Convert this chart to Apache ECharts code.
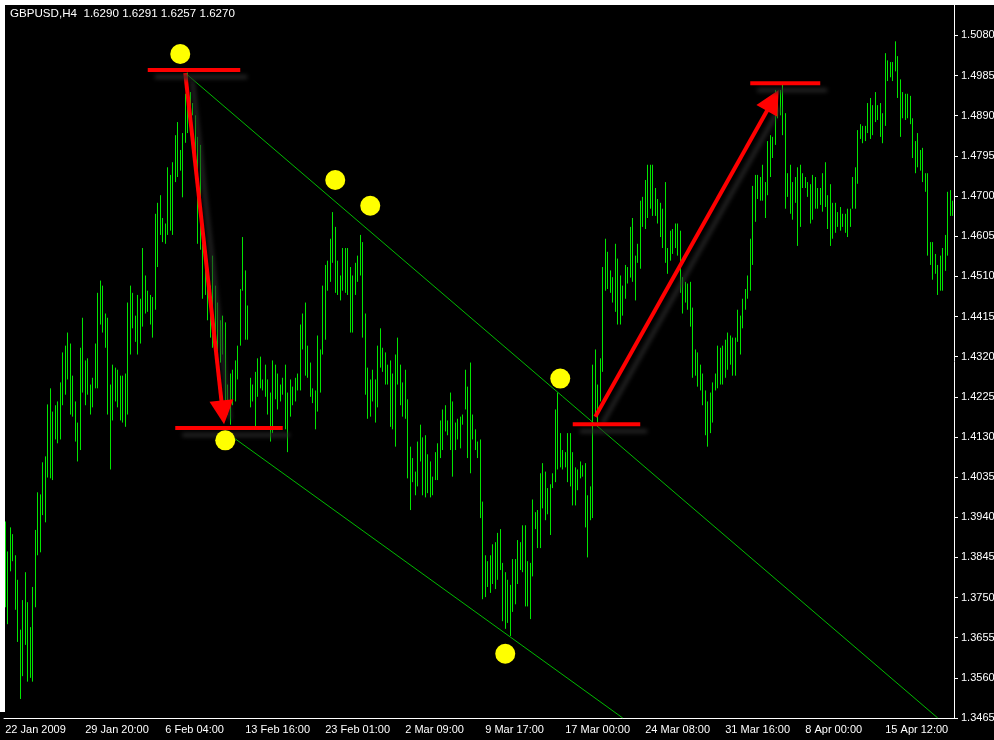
<!DOCTYPE html>
<html>
<head>
<meta charset="utf-8">
<script src="https://cdn.jsdelivr.net/npm/echarts@6/dist/echarts.min.js"></script>
<style>
  html, body { margin: 0; padding: 0; background: #000; }
  #chart { width: 994px; height: 740px; }
</style>
</head>
<body>
<div id="chart"></div>
<script>
// GBPUSD H4 bars, one entry per bar (high / low)
var tickLabels = ['22 Jan 2009', '29 Jan 20:00', '6 Feb 04:00', '13 Feb 16:00', '23 Feb 01:00', '2 Mar 09:00',
  '9 Mar 17:00', '17 Mar 00:00', '24 Mar 08:00', '31 Mar 16:00', '8 Apr 00:00', '15 Apr 12:00'];

var highs = [
  1.3930, 1.3859, 1.3916, 1.3900, 1.3850, 1.3792, 1.3674, 1.3744, 1.3810, 1.3739,
  1.3680, 1.3775, 1.3910, 1.3999, 1.3994, 1.4070, 1.4084, 1.4207, 1.4245, 1.4190,
  1.4205, 1.4214, 1.4259, 1.4330, 1.4346, 1.4377, 1.4351, 1.4275, 1.4214, 1.4164,
  1.4341, 1.4412, 1.4311, 1.4316, 1.4254, 1.4270, 1.4351, 1.4471, 1.4500, 1.4488,
  1.4422, 1.4412, 1.4254, 1.4301, 1.4294, 1.4289, 1.4275, 1.4275, 1.4280, 1.4448,
  1.4488, 1.4471, 1.4417, 1.4466, 1.4457, 1.4577, 1.4512, 1.4476, 1.4466, 1.4461,
  1.4658, 1.4684, 1.4702, 1.4648, 1.4635, 1.4768, 1.4750, 1.4780, 1.4844, 1.4875,
  1.4809, 1.4849, 1.4942, 1.4992, 1.4946, 1.4920, 1.4891, 1.4840, 1.4821, 1.4587,
  1.4568, 1.4497, 1.4488, 1.4559, 1.4488, 1.4448, 1.4406, 1.4417, 1.4401, 1.4254,
  1.4280, 1.4289, 1.4311, 1.4346, 1.4480, 1.4603, 1.4524, 1.4441, 1.4270, 1.4254,
  1.4284, 1.4316, 1.4320, 1.4266, 1.4301, 1.4266, 1.4235, 1.4311, 1.4301, 1.4280,
  1.4254, 1.4270, 1.4301, 1.4235, 1.4266, 1.4249, 1.4270, 1.4280, 1.4396, 1.4422,
  1.4448, 1.4346, 1.4306, 1.4245, 1.4240, 1.4370, 1.4337, 1.4488, 1.4537, 1.4547,
  1.4599, 1.4662, 1.4627, 1.4547, 1.4512, 1.4577, 1.4577, 1.4577, 1.4532, 1.4512,
  1.4542, 1.4559, 1.4608, 1.4591, 1.4422, 1.4294, 1.4266, 1.4289, 1.4266, 1.4346,
  1.4387, 1.4341, 1.4330, 1.4301, 1.4311, 1.4280, 1.4325, 1.4365, 1.4301, 1.4259,
  1.4289, 1.4219, 1.4107, 1.4080, 1.4048, 1.4119, 1.4159, 1.4129, 1.4134, 1.4089,
  1.4072, 1.4036, 1.4094, 1.4115, 1.4169, 1.4195, 1.4205, 1.4169, 1.4235, 1.4214,
  1.4164, 1.4173, 1.4178, 1.4183, 1.4289, 1.4249, 1.4306, 1.4183, 1.4148, 1.4119,
  1.4124, 1.3977, 1.3850, 1.3836, 1.3850, 1.3876, 1.3881, 1.3903, 1.3912, 1.3832,
  1.3810, 1.3792, 1.3780, 1.3841, 1.3841, 1.3886, 1.3881, 1.3921, 1.3921, 1.3836,
  1.3832, 1.3982, 1.3952, 1.3957, 1.4044, 1.4068, 1.4048, 1.4009, 1.4018, 1.4044,
  1.4195, 1.4235, 1.4139, 1.4099, 1.4094, 1.4139, 1.4139, 1.4094, 1.4058, 1.4053,
  1.4072, 1.4063, 1.4068, 1.3992, 1.4013, 1.4301, 1.4337, 1.4254, 1.4316, 1.4532,
  1.4599, 1.4568, 1.4524, 1.4508, 1.4587, 1.4552, 1.4512, 1.4488, 1.4537, 1.4532,
  1.4627, 1.4648, 1.4559, 1.4587, 1.4689, 1.4698, 1.4738, 1.4774, 1.4774, 1.4774,
  1.4719, 1.4693, 1.4684, 1.4670, 1.4733, 1.4577, 1.4618, 1.4622, 1.4635, 1.4635,
  1.4618, 1.4508, 1.4497, 1.4493, 1.4497, 1.4436, 1.4337, 1.4330, 1.4301, 1.4280,
  1.4240, 1.4214, 1.4235, 1.4259, 1.4280, 1.4346, 1.4341, 1.4346, 1.4360, 1.4377,
  1.4370, 1.4365, 1.4365, 1.4431, 1.4417, 1.4457, 1.4480, 1.4512, 1.4599, 1.4724,
  1.4750, 1.4750, 1.4745, 1.4774, 1.4733, 1.4830, 1.4844, 1.4840, 1.4951, 1.4946,
  1.4951, 1.4965, 1.4896, 1.4754, 1.4774, 1.4733, 1.4745, 1.4768, 1.4774, 1.4754,
  1.4745, 1.4733, 1.4728, 1.4750, 1.4745, 1.4719, 1.4719, 1.4754, 1.4780, 1.4702,
  1.4728, 1.4684, 1.4684, 1.4662, 1.4674, 1.4658, 1.4658, 1.4670, 1.4670, 1.4745,
  1.4768, 1.4856, 1.4870, 1.4866, 1.4866, 1.4920, 1.4932, 1.4915, 1.4946, 1.4915,
  1.4920, 1.4896, 1.5038, 1.5021, 1.5017, 1.5017, 1.5066, 1.5031, 1.4976, 1.4946,
  1.4942, 1.4942, 1.4937, 1.4884, 1.4830, 1.4849, 1.4809, 1.4814, 1.4754, 1.4754,
  1.4591, 1.4591, 1.4563, 1.4537, 1.4559, 1.4577, 1.4608, 1.4710, 1.4714, 1.4689
];

var lows = [
  1.3727, 1.3687, 1.3812, 1.3836, 1.3721, 1.3645, 1.3510, 1.3564, 1.3638, 1.3551,
  1.3560, 1.3551, 1.3727, 1.3850, 1.3857, 1.3945, 1.3928, 1.4034, 1.4032, 1.4028,
  1.4124, 1.4115, 1.4124, 1.4205, 1.4230, 1.4266, 1.4183, 1.4178, 1.4119, 1.4072,
  1.4099, 1.4235, 1.4205, 1.4230, 1.4183, 1.4200, 1.4245, 1.4245, 1.4396, 1.4377,
  1.4341, 1.4183, 1.4053, 1.4169, 1.4214, 1.4200, 1.4169, 1.4164, 1.4154, 1.4183,
  1.4325, 1.4387, 1.4355, 1.4325, 1.4351, 1.4391, 1.4422, 1.4426, 1.4396, 1.4365,
  1.4431, 1.4532, 1.4608, 1.4591, 1.4587, 1.4608, 1.4618, 1.4608, 1.4733, 1.4745,
  1.4760, 1.4697, 1.4826, 1.4849, 1.4866, 1.4891, 1.4795, 1.4587, 1.4573, 1.4457,
  1.4466, 1.4406, 1.4365, 1.4341, 1.4325, 1.4284, 1.4306, 1.4325, 1.4183, 1.4183,
  1.4159, 1.4205, 1.4214, 1.4266, 1.4346, 1.4476, 1.4360, 1.4360, 1.4200, 1.4214,
  1.4154, 1.4225, 1.4245, 1.4240, 1.4225, 1.4183, 1.4119, 1.4139, 1.4219, 1.4195,
  1.4214, 1.4230, 1.4148, 1.4094, 1.4178, 1.4205, 1.4214, 1.4240, 1.4240, 1.4337,
  1.4275, 1.4270, 1.4225, 1.4210, 1.4148, 1.4190, 1.4235, 1.4325, 1.4360, 1.4476,
  1.4497, 1.4542, 1.4471, 1.4466, 1.4453, 1.4476, 1.4471, 1.4466, 1.4377, 1.4377,
  1.4466, 1.4497, 1.4512, 1.4365, 1.4230, 1.4173, 1.4178, 1.4214, 1.4164, 1.4200,
  1.4294, 1.4284, 1.4254, 1.4254, 1.4154, 1.4148, 1.4107, 1.4254, 1.4205, 1.4178,
  1.4173, 1.4032, 1.3957, 1.4023, 1.3992, 1.4013, 1.4072, 1.3992, 1.3987, 1.3997,
  1.3987, 1.3992, 1.4028, 1.4028, 1.4080, 1.4099, 1.4143, 1.4134, 1.4099, 1.4036,
  1.4099, 1.4124, 1.4103, 1.4159, 1.4195, 1.4080, 1.4044, 1.4124, 1.4099, 1.4080,
  1.3938, 1.3746, 1.3751, 1.3775, 1.3761, 1.3782, 1.3770, 1.3792, 1.3815, 1.3694,
  1.3676, 1.3690, 1.3659, 1.3716, 1.3734, 1.3782, 1.3815, 1.3810, 1.3729, 1.3729,
  1.3699, 1.3800, 1.3912, 1.3867, 1.3867, 1.3961, 1.3933, 1.3947, 1.3898, 1.4009,
  1.4023, 1.4053, 1.4058, 1.4053, 1.4058, 1.4023, 1.4013, 1.3968, 1.3968, 1.4004,
  1.4032, 1.4036, 1.3916, 1.3845, 1.3933, 1.3938, 1.4183, 1.4164, 1.4214, 1.4284,
  1.4476, 1.4480, 1.4471, 1.4448, 1.4426, 1.4396, 1.4396, 1.4417, 1.4457, 1.4493,
  1.4507, 1.4497, 1.4453, 1.4542, 1.4528, 1.4627, 1.4622, 1.4648, 1.4670, 1.4653,
  1.4653, 1.4635, 1.4603, 1.4577, 1.4542, 1.4516, 1.4547, 1.4563, 1.4577, 1.4559,
  1.4471, 1.4422, 1.4448, 1.4431, 1.4391, 1.4270, 1.4275, 1.4249, 1.4240, 1.4205,
  1.4134, 1.4107, 1.4139, 1.4164, 1.4240, 1.4245, 1.4254, 1.4254, 1.4270, 1.4289,
  1.4301, 1.4275, 1.4275, 1.4355, 1.4325, 1.4387, 1.4431, 1.4457, 1.4476, 1.4537,
  1.4639, 1.4693, 1.4689, 1.4689, 1.4648, 1.4702, 1.4745, 1.4790, 1.4821, 1.4884,
  1.4891, 1.4844, 1.4670, 1.4698, 1.4658, 1.4644, 1.4684, 1.4582, 1.4627, 1.4719,
  1.4719, 1.4698, 1.4635, 1.4644, 1.4670, 1.4670, 1.4679, 1.4663, 1.4674, 1.4622,
  1.4582, 1.4599, 1.4613, 1.4627, 1.4618, 1.4627, 1.4613, 1.4603, 1.4627, 1.4670,
  1.4670, 1.4729, 1.4835, 1.4825, 1.4830, 1.4849, 1.4835, 1.4844, 1.4875, 1.4880,
  1.4840, 1.4825, 1.4866, 1.4972, 1.4981, 1.4972, 1.4995, 1.4932, 1.4840, 1.4884,
  1.4880, 1.4884, 1.4870, 1.4790, 1.4754, 1.4768, 1.4760, 1.4733, 1.4710, 1.4559,
  1.4537, 1.4502, 1.4516, 1.4466, 1.4476, 1.4476, 1.4523, 1.4559, 1.4653, 1.4653
];

var categories = highs.map(function (v, i) { return String(i); });

// drawn objects, as [bar index, price]
var upperLine = [[73, 1.4986], [373, 1.3465]];
var lowerLine = [[90, 1.4134], [247.2, 1.3465]];
var levelLines = [
  [[57.2, 1.4998], [94, 1.4998]],
  [[68.4, 1.4151], [111.2, 1.4151]],
  [[226.8, 1.4160], [254, 1.4160]],
  [[297.6, 1.4967], [326.4, 1.4967]]
];
var arrows = [
  [[72, 1.4991], [87.4, 1.4188]],
  [[236, 1.4178], [306.5, 1.4926]]
];
var dots = [[70.4, 1.5036], [132.4, 1.4738], [145.6, 1.4677], [222.4, 1.4268], [87.6, 1.4122], [199.6, 1.3617]];

var FONT = 'Liberation Sans';
var redShadow = { shadowColor: 'rgba(40,40,40,0.95)', shadowBlur: 4, shadowOffsetX: 7, shadowOffsetY: 7 };

var chart = echarts.init(document.getElementById('chart'));

var series = [{
  type: 'custom',
  data: highs.map(function (h, i) { return [i, lows[i], h]; }),
  encode: { x: 0, y: [1, 2] },
  renderItem: function (params, api) {
    var top = api.coord([api.value(0), api.value(2)]);
    var bottom = api.coord([api.value(0), api.value(1)]);
    var x = Math.round(top[0] - 0.5) + 0.5;
    return {
      type: 'line',
      shape: { x1: x, y1: top[1], x2: x, y2: bottom[1] },
      style: { stroke: '#00e600', lineWidth: 1 }
    };
  },
  silent: true,
  z: 2
}, {
  type: 'line', data: upperLine, symbol: 'none', silent: true, z: 3,
  lineStyle: { color: '#00bb00', width: 1 }
}, {
  type: 'line', data: lowerLine, symbol: 'none', silent: true, z: 3,
  lineStyle: { color: '#00bb00', width: 1 }
}];

levelLines.forEach(function (seg) {
  series.push({
    type: 'line', data: seg, symbol: 'none', silent: true, z: 5,
    lineStyle: Object.assign({ color: '#ff0000', width: 4 }, redShadow)
  });
});

series.push({
  type: 'line', data: [], silent: true, z: 5,
  markLine: {
    silent: true,
    animation: false,
    symbol: ['none', 'triangle'],
    symbolSize: 24,
    label: { show: false },
    itemStyle: { color: '#ff0000' },
    lineStyle: Object.assign({ color: '#ff0000', width: 4, type: 'solid' }, redShadow),
    emphasis: { disabled: true },
    data: arrows.map(function (a) { return [{ coord: a[0] }, { coord: a[1] }]; })
  }
});

series.push({
  type: 'scatter', data: dots, symbol: 'circle', symbolSize: 20, silent: true, z: 6,
  itemStyle: { color: '#ffff00', opacity: 1 }
});

chart.setOption({
  backgroundColor: '#000',
  animation: false,
  title: {
    text: 'GBPUSD,H4  1.6290 1.6291 1.6257 1.6270',
    left: 5, top: 3,
    textStyle: { color: '#ffffff', fontSize: 11.6, fontWeight: 'normal', fontFamily: FONT }
  },
  graphic: [
    { type: 'rect', shape: { x: 0, y: 0, width: 994, height: 5 }, style: { fill: '#ffffff' }, silent: true },
    { type: 'rect', shape: { x: 0, y: 0, width: 5, height: 712 }, style: { fill: '#ffffff' }, silent: true }
  ],
  grid: { left: 4, right: 40, top: 5, bottom: 22, containLabel: false, outerBoundsMode: 'none' },
  xAxis: {
    type: 'category',
    data: categories,
    boundaryGap: true,
    axisLine: { lineStyle: { color: '#ffffff', width: 1 } },
    axisTick: { interval: 31, alignWithLabel: true, length: 4, lineStyle: { color: '#ffffff' } },
    axisLabel: {
      interval: 31, color: '#ffffff', align: 'left', margin: 6,
      fontSize: 11, fontFamily: FONT,
      formatter: function (v, idx) { return tickLabels[Math.round(idx / 32)] || ''; }
    },
    splitLine: { show: false }
  },
  yAxis: {
    type: 'value',
    position: 'right',
    min: 1.3465,
    max: 1.5152,
    interval: 0.0095,
    scale: true,
    axisLine: { show: true, lineStyle: { color: '#ffffff', width: 1 } },
    axisTick: { show: true, length: 4, lineStyle: { color: '#ffffff' } },
    axisLabel: {
      color: '#ffffff', fontSize: 11, fontFamily: FONT, margin: 7,
      showMaxLabel: false,
      formatter: function (v) { return v.toFixed(4); }
    },
    splitLine: { show: false }
  },
  series: series
});
</script>
</body>
</html>
